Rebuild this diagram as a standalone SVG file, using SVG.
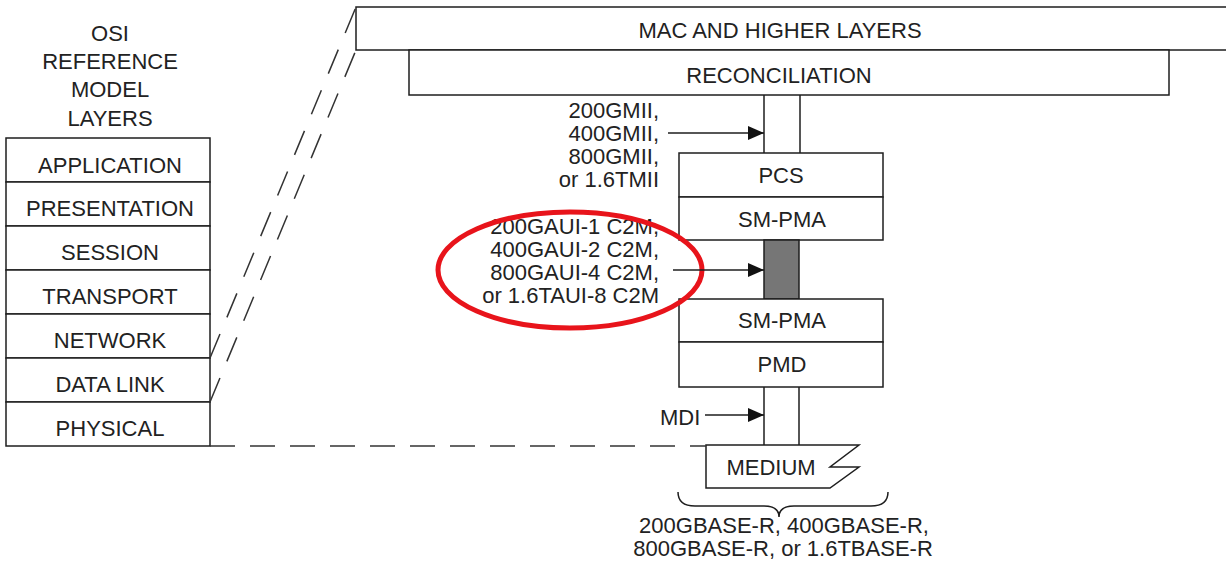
<svg xmlns="http://www.w3.org/2000/svg" width="1226" height="565" viewBox="0 0 1226 565">
<style>
.bx{fill:#fff;stroke:#1e1e1e;stroke-width:1.5}
.t{font-family:"Liberation Sans",Arial,sans-serif;font-size:22px;fill:#222}
.c{text-anchor:middle}
.r{text-anchor:end}
.ln{stroke:#1e1e1e;stroke-width:1.5;fill:none}
.dl{stroke:#333;stroke-width:1.5;fill:none;stroke-dasharray:26 18}
.dh{stroke:#333;stroke-width:1.5;fill:none;stroke-dasharray:25 15}
</style>
<defs>
<marker id="ah" markerUnits="userSpaceOnUse" markerWidth="16" markerHeight="14" refX="16" refY="7" orient="auto">
<path d="M0,0 L16,7 L0,14 Z" fill="#111"/>
</marker>
</defs>
<rect width="1226" height="565" fill="#fff"/>

<g id="osi-title">
<text class="t c" x="110" y="41">OSI</text>
<text class="t c" x="110" y="69">REFERENCE</text>
<text class="t c" x="110" y="97">MODEL</text>
<text class="t c" x="110" y="126">LAYERS</text>
</g>
<g id="osi-application"><rect class="bx" x="6" y="138" width="204" height="44"/><text class="t c" x="110" y="173">APPLICATION</text></g>
<g id="osi-presentation"><rect class="bx" x="6" y="182" width="204" height="44"/><text class="t c" x="110" y="216">PRESENTATION</text></g>
<g id="osi-session"><rect class="bx" x="6" y="226" width="204" height="44"/><text class="t c" x="110" y="260">SESSION</text></g>
<g id="osi-transport"><rect class="bx" x="6" y="270" width="204" height="44"/><text class="t c" x="110" y="304">TRANSPORT</text></g>
<g id="osi-network"><rect class="bx" x="6" y="314" width="204" height="44"/><text class="t c" x="110" y="348">NETWORK</text></g>
<g id="osi-datalink"><rect class="bx" x="6" y="358" width="204" height="44"/><text class="t c" x="110" y="392">DATA LINK</text></g>
<g id="osi-physical"><rect class="bx" x="6" y="402" width="204" height="44"/><text class="t c" x="110" y="436">PHYSICAL</text></g>

<g id="mac"><rect class="bx" x="356" y="7" width="890" height="43"/><text class="t c" x="780" y="38">MAC AND HIGHER LAYERS</text></g>
<g id="reconciliation"><rect class="bx" x="409" y="50" width="760" height="45"/><text class="t c" x="779" y="83">RECONCILIATION</text></g>
<g id="pcs"><rect class="bx" x="679" y="153" width="204" height="44"/><text class="t c" x="781" y="183">PCS</text></g>
<g id="sm-pma-upper"><rect class="bx" x="679" y="197" width="204" height="43"/><text class="t c" x="782" y="227">SM-PMA</text></g>
<g id="c2m-link"><rect x="764" y="240" width="35" height="59" fill="#767676" stroke="#1e1e1e" stroke-width="1.5"/></g>
<g id="sm-pma-lower"><rect class="bx" x="679" y="299" width="204" height="43"/><text class="t c" x="782" y="328">SM-PMA</text></g>
<g id="pmd"><rect class="bx" x="679" y="342" width="204" height="45"/><text class="t c" x="782" y="372">PMD</text></g>
<g id="medium"><path class="bx" d="M706,445 H859 L830,467 H859 L830,488 H706 Z"/><text class="t c" x="771" y="475">MEDIUM</text></g>

<g id="gmii-label">
<text class="t r" x="659" y="118">200GMII,</text>
<text class="t r" x="659" y="141">400GMII,</text>
<text class="t r" x="659" y="164">800GMII,</text>
<text class="t r" x="659" y="187">or 1.6TMII</text>
</g>
<g id="c2m-label">
<text class="t r" x="659" y="234">200GAUI-1 C2M,</text>
<text class="t r" x="659" y="257">400GAUI-2 C2M,</text>
<text class="t r" x="659" y="280">800GAUI-4 C2M,</text>
<text class="t r" x="659" y="303">or 1.6TAUI-8 C2M</text>
<ellipse cx="570" cy="270" rx="132" ry="58" fill="none" stroke="#e8141b" stroke-width="5"/>
</g>
<g id="mdi-label"><text class="t" x="660" y="425">MDI</text></g>
<g id="phy-label">
<text class="t c" x="784" y="533">200GBASE-R, 400GBASE-R,</text>
<text class="t c" x="783" y="556">800GBASE-R, or 1.6TBASE-R</text>
</g>

<g id="connectors">
<line class="dl" x1="210" y1="358" x2="356" y2="7"/>
<line class="dl" x1="210" y1="402" x2="356" y2="50"/>
<line class="dh" x1="210" y1="446" x2="706" y2="446"/>
<line class="ln" x1="764" y1="95" x2="764" y2="153"/>
<line class="ln" x1="800" y1="95" x2="800" y2="153"/>
<line class="ln" x1="764" y1="387" x2="764" y2="445"/>
<line class="ln" x1="799" y1="387" x2="799" y2="445"/>
<line class="ln" x1="668" y1="133" x2="764" y2="133" marker-end="url(#ah)"/>
<line class="ln" x1="673" y1="270" x2="764" y2="270" marker-end="url(#ah)"/>
<line class="ln" x1="705" y1="415" x2="764" y2="415" marker-end="url(#ah)"/>
<path class="ln" d="M678,492 C678,502 684,506 695,506 H764 C774,506 779,510 779,517 C779,510 784,506 794,506 H871 C882,506 888,502 888,492"/>
</g>
</svg>
